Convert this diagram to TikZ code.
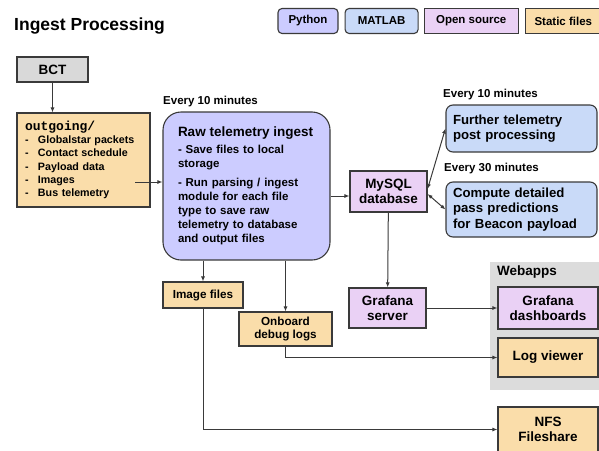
\documentclass[tikz,border=0pt]{standalone}
\usepackage{fontspec}
\setmainfont{Liberation Sans}
\setmonofont{Liberation Mono}
\usetikzlibrary{arrows.meta, positioning}

\definecolor{pycolor}{HTML}{CCCCFF}
\definecolor{matcolor}{HTML}{C9DAF8}
\definecolor{oscolor}{HTML}{EAD1F5}
\definecolor{staticcolor}{HTML}{FADDAA}
\definecolor{bctcolor}{HTML}{D9D9D9}
\definecolor{webcolor}{HTML}{DCDCDC}
\definecolor{edgecolor}{HTML}{3A3A3A}

\newcommand{\listdash}{\makebox[13pt][l]{-}}

\begin{document}
\begin{tikzpicture} [x=1pt, y=-1pt,
		% define styles
		basicbox/.style={
			% The shape:
			rectangle,
			% The border:
			line width=1.1pt,
			draw=edgecolor,
			% Text
			align=center,
			inner sep=2pt,
			% Font
			font=\fontsize{13.5}{15.5}\selectfont\bfseries
		},
		pythonbox/.style={basicbox, fill=pycolor, rounded corners=4pt},
		matlabbox/.style={basicbox, fill=matcolor, rounded corners=4pt},
		opensrcbox/.style={basicbox, fill=oscolor},
		staticbox/.style={basicbox, fill=staticcolor},
		bctbox/.style={basicbox, fill=bctcolor},
		legendbox/.style={
			minimum height=25pt,
			font=\fontsize{11.5}{13}\selectfont\bfseries
		},
		timelabel/.style={
			inner sep=0pt,
			font=\fontsize{11.5}{13}\selectfont\bfseries
		},
		arrow/.style={
			-{Latex[length=5pt,width=4pt]},
			% Thickness
			line width=1pt,
			% Color
			draw=edgecolor
		},
		dblarrow/.style={
			arrow,
			{Latex[length=5pt,width=4pt]}-{Latex[length=5pt,width=4pt]}
		}]
		% end of style definition

		\useasboundingbox (0,0) rectangle (599,450);

		% title and legend
		\node (title) [anchor=west, inner sep=0pt, font=\fontsize{17.5}{20}\selectfont\bfseries] at (14,26) {Ingest Processing};
		\node (lpython) [pythonbox, legendbox, minimum width=60pt] at (308,21) {Python};
		\node (lmatlab) [matlabbox, legendbox, minimum width=73pt, right=6pt of lpython] {MATLAB};
		\node (lopen) [opensrcbox, legendbox, minimum width=94pt, right=5pt of lmatlab] {Open source};
		\node (lstatic) [staticbox, legendbox, minimum width=76pt, right=6pt of lopen] {Static files};

		% webapps background
		\node (webapps) [fill=webcolor, minimum width=112pt, minimum height=128pt] at (546,326) {};
		\node (lbweb) [timelabel, anchor=west, font=\fontsize{13.5}{15}\selectfont\bfseries] at (497,272) {Webapps};

		% draw nodes
		\node (bct) [bctbox, minimum width=71pt, minimum height=25pt] at (52.5,69.5) {BCT};
		\node (outgoing) [staticbox, minimum width=133pt, minimum height=94pt, text width=117pt, inner xsep=8pt, align=left, font=\fontsize{10.7}{13.3}\selectfont\bfseries] at (83.5,160)
			{{\fontsize{13}{13.3}\selectfont\ttfamily outgoing/}\\
			\listdash Globalstar packets\\
			\listdash Contact schedule\\
			\listdash Payload data\\
			\listdash Images\\
			\listdash Bus telemetry};

		\node (raw) [pythonbox, rounded corners=18pt, minimum width=167pt, minimum height=148pt, text width=137pt, inner xsep=15pt, align=left, font=\fontsize{11.5}{14}\selectfont\bfseries] at (246.5,186)
			{{\fontsize{13.5}{16}\selectfont Raw telemetry ingest}\\[3pt]
			- Save files to local\\
			storage\\[5pt]
			- Run parsing / ingest\\
			module for each file\\
			type to save raw\\
			telemetry to database\\
			and output files};
		\node (lbraw) [timelabel, anchor=west] at (163,102) {Every 10 minutes};

		\node (mysql) [opensrcbox, minimum width=77pt, minimum height=41pt] at (388.5,191.5) {MySQL\\database};

		\node (further) [matlabbox, rounded corners=7pt, minimum width=151pt, minimum height=47pt, text width=137pt, inner xsep=7pt, align=left, font=\fontsize{13.2}{15}\selectfont\bfseries] at (521.5,128.5) {Further telemetry\\post processing};
		\node (lbfurther) [timelabel, anchor=west] at (443,95) {Every 10 minutes};
		\node (compute) [matlabbox, rounded corners=7pt, minimum width=151pt, minimum height=55pt, text width=137pt, inner xsep=7pt, align=left, font=\fontsize{13.2}{15.5}\selectfont\bfseries] at (521.5,209.5) {Compute detailed\\pass predictions\\for Beacon payload};
		\node (lbcompute) [timelabel, anchor=west] at (444,169) {Every 30 minutes};

		\node (grafana) [opensrcbox, minimum width=77pt, minimum height=40pt] at (387.5,308) {Grafana\\server};
		\node (dash) [opensrcbox, minimum width=100pt, minimum height=42pt] at (548,308) {Grafana\\dashboards};
		\node (logview) [staticbox, minimum width=100pt, minimum height=39pt] at (548,357.5) {Log viewer};
		\node (nfs) [staticbox, minimum width=100pt, minimum height=45pt] at (548,429.5) {NFS\\Fileshare};

		\node (imgfiles) [staticbox, minimum width=80pt, minimum height=26pt, font=\fontsize{11.7}{13.5}\selectfont\bfseries] at (203,295) {Image files};
		\node (debuglogs) [staticbox, minimum width=93pt, minimum height=34pt, font=\fontsize{11.7}{13.5}\selectfont\bfseries] at (285.5,329) {Onboard\\debug logs};

		% connect nodes
		\coordinate (outtap) at (135,182);
		\coordinate (mysqlin) at ([yshift=-4.5pt]mysql.west);
		\draw [arrow] (bct.south) -- (bct.south |- outgoing.north);
		\draw [arrow] (outtap) -- (outtap -| raw.west);
		\draw [arrow] (raw.east |- mysqlin) -- (mysqlin);
		\draw [dblarrow] ([yshift=2.5pt]mysql.east) -- (further.west);
		\draw [dblarrow] ([yshift=-2.5pt]mysql.east) -- (compute.west);
		\draw [arrow] (mysql) -- (grafana);
		\draw [arrow] (grafana) -- (dash);
		\draw [arrow] (raw.south -| imgfiles) -- (imgfiles.north);
		\draw [arrow] (raw.south -| debuglogs) -- (debuglogs.north);
		\draw [arrow] (debuglogs.south) |- (logview.west);
		\draw [arrow] (imgfiles.south) |- (nfs.west);
	\end{tikzpicture}
\end{document}
